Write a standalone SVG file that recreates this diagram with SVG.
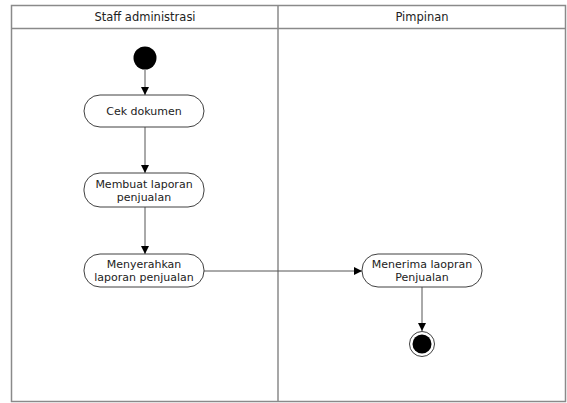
<svg xmlns="http://www.w3.org/2000/svg" width="567" height="403" viewBox="0 0 567 403">
<style>
.lane{fill:none;stroke:#8a8a8a;stroke-width:1.5}
.act{fill:#fff;stroke:#404040;stroke-width:1}
.t{font-family:"DejaVu Sans",Verdana,sans-serif;font-size:11px;fill:#222;text-anchor:middle}
.h{font-family:"DejaVu Sans",Verdana,sans-serif;font-size:11.5px;fill:#222;text-anchor:middle}
.c{fill:none;stroke:#555;stroke-width:1}
</style>
<defs>
<marker id="ah" viewBox="0 0 10 10" refX="10" refY="5" markerWidth="8" markerHeight="9" markerUnits="userSpaceOnUse" orient="auto">
<path d="M0,0 L10,5 L0,10 Z" fill="#000"/>
</marker>
</defs>
<rect width="567" height="403" fill="#fff"/>
<g id="swimlanes">
<rect class="lane" x="11.5" y="5.5" width="554" height="396"/>
<line class="lane" x1="11.5" y1="28.5" x2="565.5" y2="28.5"/>
<line class="lane" x1="278" y1="5.5" x2="278" y2="401.5"/>
<text class="h" x="145" y="21">Staff administrasi</text>
<text class="h" x="422" y="21">Pimpinan</text>
</g>
<g id="connectors">
<line class="c" x1="145" y1="70" x2="145" y2="95" marker-end="url(#ah)"/>
<line class="c" x1="145" y1="127" x2="145" y2="173" marker-end="url(#ah)"/>
<line class="c" x1="145" y1="207" x2="145" y2="254" marker-end="url(#ah)"/>
<line class="c" x1="204" y1="271" x2="362" y2="271" marker-end="url(#ah)"/>
<line class="c" x1="422" y1="287" x2="422" y2="331" marker-end="url(#ah)"/>
</g>
<g id="start"><circle cx="145" cy="58" r="11.5" fill="#000"/></g>
<g id="cek">
<rect class="act" x="84" y="95" width="120" height="32" rx="16"/>
<text class="t" x="144" y="115">Cek dokumen</text>
</g>
<g id="membuat">
<rect class="act" x="84" y="173" width="120" height="34" rx="16"/>
<text class="t" x="144" y="188">Membuat laporan</text>
<text class="t" x="144" y="201">penjualan</text>
</g>
<g id="menyerahkan">
<rect class="act" x="84" y="254" width="120" height="33" rx="16"/>
<text class="t" x="144" y="268">Menyerahkan</text>
<text class="t" x="144" y="281">laporan penjualan</text>
</g>
<g id="menerima">
<rect class="act" x="362" y="254" width="120" height="33" rx="16"/>
<text class="t" x="422" y="268">Menerima laopran</text>
<text class="t" x="422" y="281">Penjualan</text>
</g>
<g id="end">
<circle cx="422" cy="344" r="12.5" fill="#fff" stroke="#404040" stroke-width="1"/>
<circle cx="422" cy="344" r="9.5" fill="#000"/>
</g>
</svg>
